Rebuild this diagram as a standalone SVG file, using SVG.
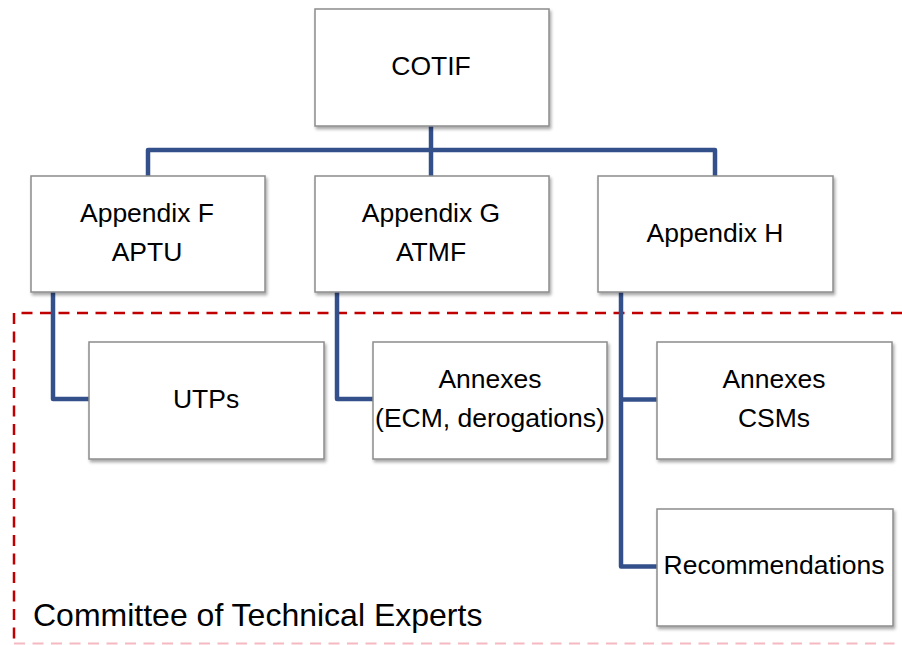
<svg xmlns="http://www.w3.org/2000/svg" width="902" height="645" viewBox="0 0 902 645">
<defs>
<filter id="sh" x="-10%" y="-10%" width="125%" height="130%">
<feDropShadow dx="1.5" dy="2.5" stdDeviation="1.8" flood-color="#000" flood-opacity="0.35"/>
</filter>
<style>
.box{fill:#fff;stroke:#8c8c8c;stroke-width:1.5;filter:url(#sh)}
.t{font-family:"Liberation Sans",Arial,sans-serif;font-size:26.5px;fill:#000;text-anchor:middle}
.conn{fill:none;stroke:#34508b;stroke-width:4.5;stroke-linejoin:round;stroke-linecap:butt}
.dash{fill:none;stroke:#c00000;stroke-width:2.5;stroke-dasharray:11 7.5}
</style>
</defs>
<rect width="902" height="645" fill="#fff"/>
<g id="frame">
<path class="dash" d="M902,313 H14 V644"/>
<path d="M14,643.5 H902" fill="none" stroke="#f5b9c2" stroke-width="2" stroke-dasharray="11 7.5"/>
<text x="33" y="626" style="font-family:'Liberation Sans',Arial,sans-serif;font-size:32px;fill:#000">Committee of Technical Experts</text>
</g>
<g id="connectors">
<path class="conn" d="M431,126 V176"/>
<path class="conn" d="M148,176 V150 H715 V176"/>
<path class="conn" d="M53,292 V399 H89"/>
<path class="conn" d="M337,292 V399 H373"/>
<path class="conn" d="M621,292 V566.5 H657"/>
<path class="conn" d="M621,399.5 H657"/>
</g>
<g id="cotif">
<rect class="box" x="315" y="9" width="234" height="117"/>
<text class="t" x="431" y="75">COTIF</text>
</g>
<g id="appF">
<rect class="box" x="31" y="176" width="234" height="116"/>
<text class="t" x="147" y="222">Appendix F</text>
<text class="t" x="147" y="261">APTU</text>
</g>
<g id="appG">
<rect class="box" x="315" y="176" width="234" height="116"/>
<text class="t" x="431" y="222">Appendix G</text>
<text class="t" x="431" y="261">ATMF</text>
</g>
<g id="appH">
<rect class="box" x="598" y="176" width="235" height="116"/>
<text class="t" x="715" y="242">Appendix H</text>
</g>
<g id="utps">
<rect class="box" x="89" y="342" width="235" height="117"/>
<text class="t" x="206" y="408">UTPs</text>
</g>
<g id="annexesG">
<rect class="box" x="373" y="342" width="234" height="117"/>
<text class="t" x="490" y="388">Annexes</text>
<text class="t" x="490" y="427">(ECM, derogations)</text>
</g>
<g id="annexesH">
<rect class="box" x="657" y="342" width="235" height="117"/>
<text class="t" x="774" y="388">Annexes</text>
<text class="t" x="774" y="427">CSMs</text>
</g>
<g id="recommendations">
<rect class="box" x="657" y="509" width="236" height="117"/>
<text class="t" x="774" y="574">Recommendations</text>
</g>
</svg>
